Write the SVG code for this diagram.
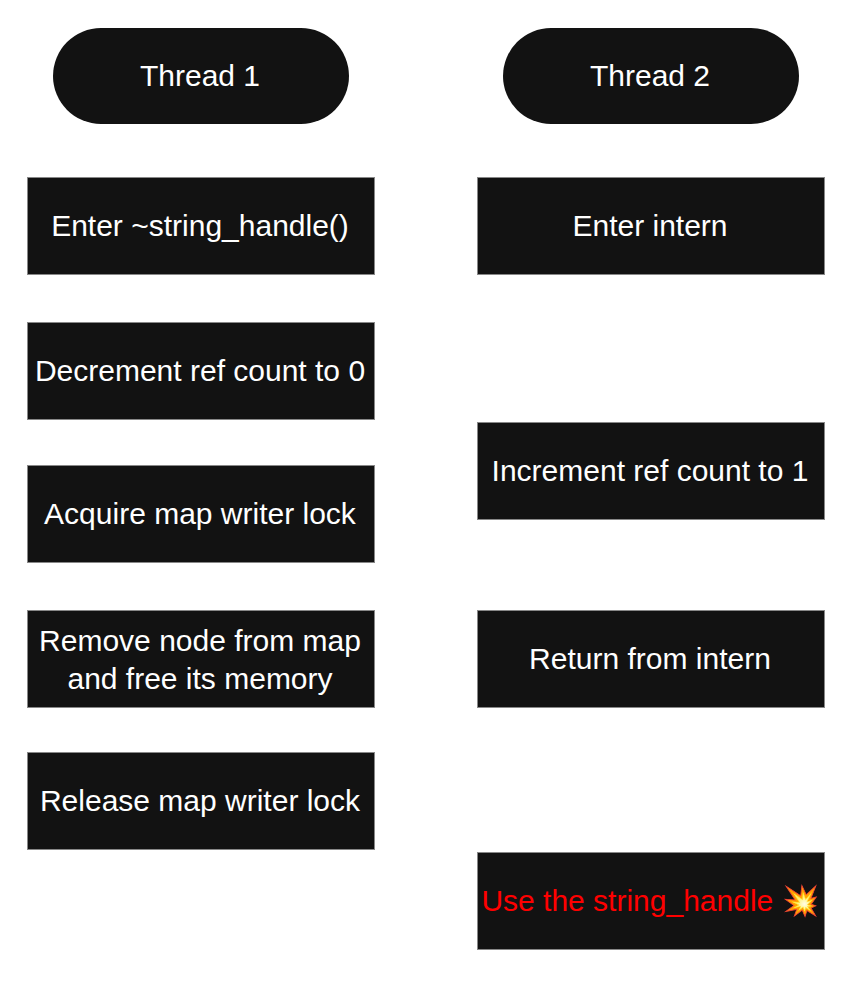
<svg xmlns="http://www.w3.org/2000/svg" width="853" height="983" viewBox="0 0 853 983">
<style>
.b{fill:#121212;stroke:#888;stroke-width:1}
.t{font-family:"Liberation Sans",Arial,sans-serif;font-size:30px;fill:#fff;text-anchor:middle;dominant-baseline:central}
.r{fill:#ff0000}
</style>
<rect width="853" height="983" fill="#fff"/>
<g id="thread1"><rect x="53" y="28" width="296" height="96" rx="48" fill="#121212"/><text class="t" x="200" y="75">Thread 1</text></g>
<g id="thread2"><rect x="503" y="28" width="296" height="96" rx="48" fill="#121212"/><text class="t" x="650" y="75">Thread 2</text></g>
<g id="n1"><rect class="b" x="27.5" y="177.5" width="347" height="97"/><text class="t" x="200" y="225">Enter ~string_handle()</text></g>
<g id="n2"><rect class="b" x="27.5" y="322.5" width="347" height="97"/><text class="t" x="200" y="370">Decrement ref count to 0</text></g>
<g id="n3"><rect class="b" x="27.5" y="465.5" width="347" height="97"/><text class="t" x="200" y="513">Acquire map writer lock</text></g>
<g id="n4"><rect class="b" x="27.5" y="610.5" width="347" height="97"/><text class="t" x="200" y="640">Remove node from map</text><text class="t" x="200" y="678">and free its memory</text></g>
<g id="n5"><rect class="b" x="27.5" y="752.5" width="347" height="97"/><text class="t" x="200" y="800">Release map writer lock</text></g>
<g id="m1"><rect class="b" x="477.5" y="177.5" width="347" height="97"/><text class="t" x="650" y="225">Enter intern</text></g>
<g id="m2"><rect class="b" x="477.5" y="422.5" width="347" height="97"/><text class="t" x="650" y="470">Increment ref count to 1</text></g>
<g id="m3"><rect class="b" x="477.5" y="610.5" width="347" height="97"/><text class="t" x="650" y="658">Return from intern</text></g>
<g id="m4"><rect class="b" x="477.5" y="852.5" width="347" height="97"/><text class="t r" x="650" y="900">Use the string_handle 💥</text></g>
<g id="connectors"/>
</svg>
